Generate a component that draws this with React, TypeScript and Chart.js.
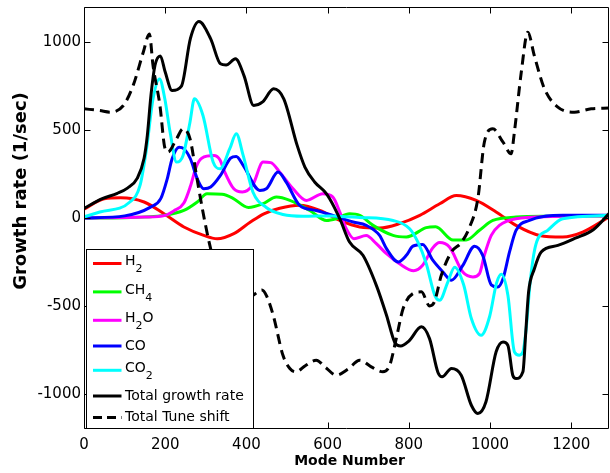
import React, { useEffect, useRef } from "react";
import { Chart, registerables } from "chart.js";

Chart.register(...registerables);

const X_MIN = 0;
const X_MAX = 1293;
const Y_MIN = -1200;
const Y_MAX = 1200;
const xTickValues = [0, 200, 400, 600, 800, 1000, 1200];
const yTickValues = [-1000, -500, 0, 500, 1000];
const xTitle = "Mode Number";
const yTitle = "Growth rate (1/sec)";

const labels = ["H₂", "CH₄", "H₂O", "CO", "CO₂", "Total growth rate", "Total Tune shift"];

// [mode number, growth rate]
const h2 = [[0,50],[50,110],[90,115],[148,91],[197,24],[246,-51],[295,-99],[328,-118],[369,-89],[410,-23],[443,24],[482,55],[531,72],[581,43],[630,-14],[679,-51],[728,-57],[777,-32],[827,15],[876,81],[917,128],[966,100],[1015,34],[1064,-42],[1122,-99],[1179,-108],[1228,-80],[1293,6]];
const ch4 = [[0,0],[100,2],[197,15],[246,43],[279,91],[303,138],[340,135],[365,115],[405,60],[440,80],[474,119],[507,100],[556,43],[597,-14],[621,-4],[654,24],[679,15],[712,-42],[761,-99],[794,-108],[843,-55],[866,-50],[909,-125],[941,-125],[974,-70],[1007,-14],[1064,5],[1150,10],[1293,12]];
const h2o = [[0,0],[150,5],[200,15],[221,40],[246,85],[262,180],[277,295],[290,340],[320,355],[335,330],[345,270],[369,166],[390,148],[416,190],[441,318],[460,315],[482,261],[515,166],[548,100],[588,138],[613,119],[630,34],[646,-61],[665,-118],[695,-100],[720,-146],[745,-203],[777,-260],[812,-300],[834,-269],[859,-170],[876,-140],[900,-165],[933,-307],[958,-335],[974,-316],[986,-212],[1003,-99],[1023,-42],[1064,-4],[1150,8],[1293,12]];
const co = [[0,0],[100,12],[164,62],[189,110],[205,223],[217,337],[234,403],[246,394],[262,337],[279,223],[295,166],[312,176],[336,242],[361,340],[375,350],[392,300],[433,157],[449,166],[478,261],[498,204],[531,72],[572,43],[613,15],[663,-23],[695,-42],[728,-99],[745,-174],[774,-250],[794,-212],[810,-160],[834,-150],[859,-240],[884,-307],[905,-354],[933,-269],[962,-160],[982,-212],[1003,-380],[1019,-392],[1032,-345],[1048,-193],[1064,-70],[1097,-14],[1179,15],[1293,15]];
const co2 = [[0,6],[39,34],[113,91],[138,185],[154,394],[170,678],[186,791],[199,678],[212,489],[228,318],[244,356],[261,545],[272,678],[293,583],[318,318],[335,280],[359,394],[375,479],[392,356],[416,148],[449,60],[490,20],[540,10],[600,12],[679,3],[761,-14],[802,-61],[823,-140],[843,-260],[864,-440],[876,-468],[896,-364],[913,-280],[935,-380],[954,-572],[978,-667],[999,-560],[1016,-370],[1028,-320],[1044,-440],[1060,-761],[1072,-780],[1081,-761],[1089,-629],[1099,-360],[1113,-150],[1142,-70],[1179,-4],[1293,15]];
const totalGrowth = [[0,55],[45,110],[82,140],[107,170],[131,225],[148,340],[156,470],[165,700],[175,870],[188,922],[200,830],[217,725],[240,750],[262,1020],[283,1117],[312,1019],[336,877],[350,870],[373,905],[394,810],[418,640],[440,660],[467,735],[492,678],[525,413],[544,290],[568,205],[593,149],[605,110],[630,-4],[654,-137],[687,-212],[720,-383],[745,-553],[765,-705],[780,-728],[800,-700],[831,-619],[851,-686],[872,-880],[882,-903],[905,-856],[929,-894],[954,-1065],[970,-1112],[990,-1045],[1015,-761],[1032,-705],[1044,-724],[1056,-894],[1064,-913],[1081,-875],[1088,-650],[1095,-420],[1109,-290],[1126,-193],[1167,-156],[1210,-115],[1255,-65],[1293,25]];
const tuneShift = [[0,621],[39,611],[64,602],[97,640],[121,753],[146,943],[161,1047],[170,867],[187,640],[199,400],[207,375],[228,451],[244,507],[261,451],[277,242],[293,34],[310,-156],[330,-330],[360,-450],[390,-470],[416,-440],[438,-410],[449,-440],[466,-553],[490,-781],[507,-856],[522,-875],[545,-840],[572,-809],[595,-850],[621,-894],[650,-860],[679,-809],[710,-850],[736,-875],[753,-837],[769,-686],[786,-515],[810,-430],[831,-420],[851,-500],[863,-477],[880,-326],[905,-193],[929,-140],[950,-50],[970,110],[986,431],[1007,507],[1032,431],[1052,365],[1060,489],[1077,830],[1093,1057],[1109,924],[1134,735],[1167,631],[1208,602],[1249,621],[1293,625]];

const seriesData = [h2, ch4, h2o, co, co2, totalGrowth, tuneShift];
const seriesColors = ["#ff0000", "#00ff00", "#ff00ff", "#0000ff", "#00ffff", "#000000", "#000000"];

const FONT = "'DejaVu Sans', sans-serif";
const SUBS = "₀₁₂₃₄₅₆₇₈₉";

function hasSub(t: string) {
  for (const c of t) if (SUBS.indexOf(c) >= 0) return true;
  return false;
}

function drawRich(ctx: CanvasRenderingContext2D, text: string, x: number, y: number, size: number) {
  const runs: { t: string; sub: boolean }[] = [];
  for (const ch of text) {
    const i = SUBS.indexOf(ch);
    const sub = i >= 0;
    const c = sub ? String(i) : ch;
    const last = runs[runs.length - 1];
    if (last && last.sub === sub) last.t += c;
    else runs.push({ t: c, sub });
  }
  let cx = x;
  for (const r of runs) {
    ctx.font = `${r.sub ? Math.round(size * 0.75) : size}px ${FONT}`;
    ctx.fillText(r.t, cx, r.sub ? y + 8 : y);
    cx += ctx.measureText(r.t).width;
  }
}

const axesPlugin = {
  id: "matlabAxes",
  afterDatasetsDraw(chart: any) {
    const { ctx, chartArea: a } = chart;
    const xs = chart.scales.x;
    const ys = chart.scales.y;
    ctx.save();
    ctx.strokeStyle = "#000";
    ctx.lineWidth = 1;
    ctx.setLineDash([]);
    const L = a.left + 0.5, R = a.right - 0.5, T = a.top + 0.5, B = a.bottom - 0.5;
    const tl = 6;
    ctx.beginPath();
    ctx.rect(L, T, R - L, B - T);
    xs.ticks.forEach((t: any) => {
      const px = Math.round(xs.getPixelForValue(t.value)) + 0.5;
      ctx.moveTo(px, B); ctx.lineTo(px, B - tl);
      ctx.moveTo(px, T); ctx.lineTo(px, T + tl);
    });
    ys.ticks.forEach((t: any) => {
      const py = Math.round(ys.getPixelForValue(t.value)) + 0.5;
      ctx.moveTo(L, py); ctx.lineTo(L + tl, py);
      ctx.moveTo(R, py); ctx.lineTo(R - tl, py);
    });
    ctx.stroke();

    // legend box
    const lx = a.left + 2.5;
    const lw = 167;
    const lb = a.bottom - 0.5;
    const lt = a.bottom - 180 + 0.5;
    ctx.fillStyle = "#fff";
    ctx.fillRect(lx, lt, lw, lb - lt);
    ctx.strokeRect(lx, lt, lw, lb - lt);
    const ds = chart.data.datasets;
    let cy = lt + 14;
    ds.forEach((d: any, i: number) => {
      if (i > 0) {
        cy += 21.6 + (hasSub(ds[i - 1].label) ? 4.1 : 0) + (hasSub(d.label) ? 2.7 : 0);
      }
      ctx.strokeStyle = d.borderColor;
      ctx.lineWidth = 3;
      ctx.setLineDash(d.borderDash && d.borderDash.length ? [9, 5] : []);
      ctx.beginPath();
      ctx.moveTo(lx + 6.5, cy);
      ctx.lineTo(lx + 35, cy);
      ctx.stroke();
      ctx.setLineDash([]);
      ctx.fillStyle = "#000";
      ctx.textAlign = "left";
      ctx.textBaseline = "middle";
      drawRich(ctx, d.label, lx + 38.5, cy - (hasSub(d.label) ? 2 : 0), 14);
    });
    ctx.restore();
  },
  afterDraw(chart: any) {
    const { ctx, chartArea: a } = chart;
    ctx.save();
    ctx.fillStyle = "#000";
    ctx.textAlign = "center";
    ctx.textBaseline = "middle";
    ctx.font = `bold 14px ${FONT}`;
    ctx.fillText(xTitle, (a.left + a.right) / 2 + 3, 461);
    ctx.translate(21, 191);
    ctx.rotate(-Math.PI / 2);
    ctx.font = `bold 18px ${FONT}`;
    ctx.fillText(yTitle, 0, 0);
    ctx.restore();
  },
};

export default function App() {
  const ref = useRef<HTMLCanvasElement>(null);
  useEffect(() => {
    if (!ref.current) return;
    Chart.defaults.color = "#000";
    const chart = new Chart(ref.current, {
      type: "line",
      data: {
        datasets: seriesData.map((d, i) => ({
          label: labels[i],
          data: d.map(([x, y]) => ({ x, y })),
          borderColor: seriesColors[i],
          backgroundColor: seriesColors[i],
          borderWidth: 3,
          borderDash: i === 6 ? [10, 6] : [],
          borderCapStyle: "butt",
          pointRadius: 0,
          fill: false,
          cubicInterpolationMode: "monotone",
          order: 6 - i,
        })),
      },
      options: {
        animation: false,
        responsive: false,
        devicePixelRatio: 1,
        layout: { padding: { top: 7, right: 1, bottom: 0, left: 0 } },
        plugins: { legend: { display: false }, tooltip: { enabled: false } },
        scales: {
          x: {
            type: "linear",
            min: X_MIN,
            max: X_MAX,
            afterBuildTicks: (s: any) => { s.ticks = xTickValues.map((v) => ({ value: v })); },
            afterFit: (s: any) => { s.height = 44; s.paddingLeft = 0; s.paddingRight = 0; },
            grid: { display: false, drawTicks: false },
            border: { display: false },
            ticks: { font: { family: FONT, size: 15 }, color: "#000", padding: 7, maxRotation: 0, autoSkip: false, callback: (v: any) => String(v) },
          },
          y: {
            type: "linear",
            min: Y_MIN,
            max: Y_MAX,
            afterBuildTicks: (s: any) => { s.ticks = yTickValues.map((v) => ({ value: v })); },
            afterFit: (s: any) => { s.width = 84; s.paddingTop = 0; s.paddingBottom = 0; },
            grid: { display: false, drawTicks: false },
            border: { display: false },
            ticks: { font: { family: FONT, size: 15 }, color: "#000", padding: 3, autoSkip: false, callback: (v: any) => String(v) },
          },
        },
      } as any,
      plugins: [axesPlugin],
    });
    return () => chart.destroy();
  }, []);
  return (
    <div style={{ position: "absolute", left: 0, top: 0, width: 610, height: 473, background: "#fff" }}>
      <canvas ref={ref} width={610} height={473} style={{ width: 610, height: 473 }} />
    </div>
  );
}
